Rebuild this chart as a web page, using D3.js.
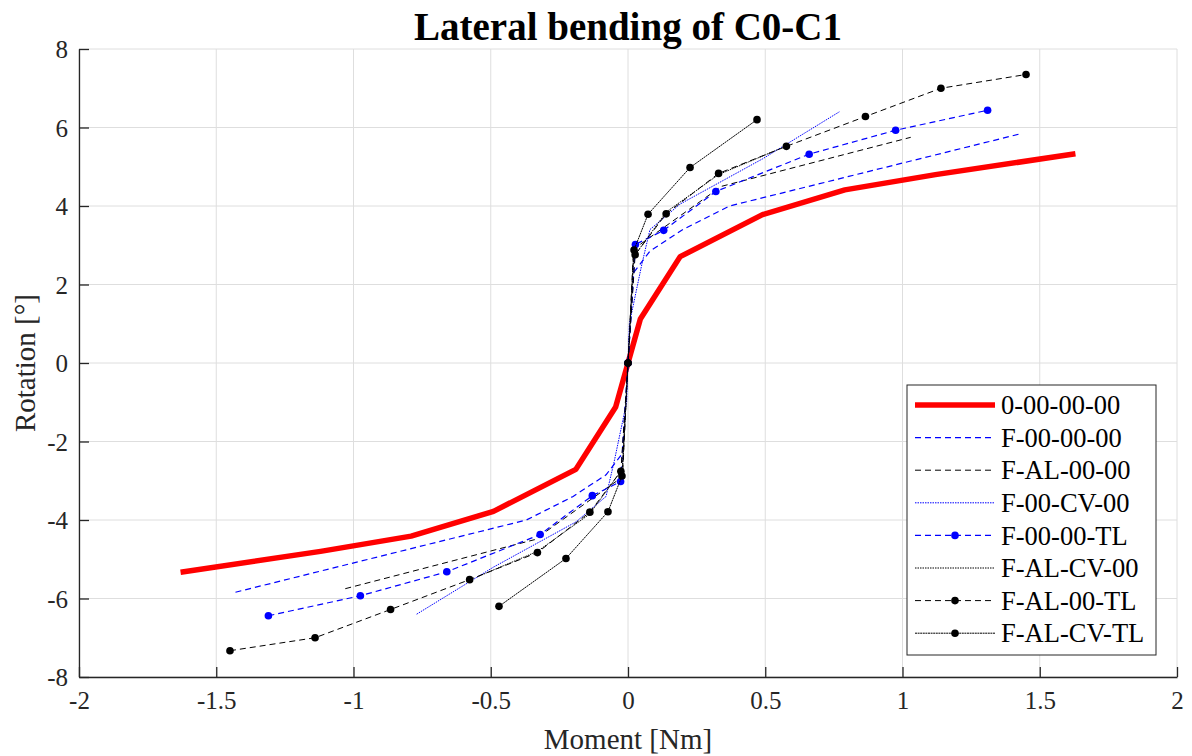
<!DOCTYPE html>
<html>
<head>
<meta charset="utf-8">
<script src="https://cdn.jsdelivr.net/npm/d3@7"></script>
<style>
  body { margin: 0; background: #fff; }
  svg { font-family: 'Liberation Serif', 'Times New Roman', serif; }
</style>
</head>
<body>
<div id="chart"></div>
<script>
// tick labels
const xTicks = [-2, -1.5, -1, -0.5, 0, 0.5, 1, 1.5, 2]
const yTicks = [-8, -6, -4, -2, 0, 2, 4, 6, 8]

// series (moment in Nm, rotation in deg)
const intactM = [-1.63, -1.12, -0.79, -0.49, -0.19, -0.045, 0, 0.045, 0.19, 0.49, 0.79, 1.12, 1.63]
const intactR = [-5.33, -4.8, -4.41, -3.78, -2.71, -1.12, 0, 1.12, 2.71, 3.78, 4.41, 4.8, 5.33]

const f000000M = [-1.43, -0.37, -0.2, -0.08, -0.02, 0, 0.02, 0.08, 0.2, 0.37, 1.43]
const f000000R = [-5.84, -4.0, -3.4, -2.85, -2.3, 0, 2.3, 2.85, 3.4, 4.0, 5.84]

const fal0000M = [-1.03, -0.34, -0.02, 0, 0.02, 0.34, 1.03]
const fal0000R = [-5.75, -4.5, -2.9, 0, 2.9, 4.5, 5.75]

const f00cv00M = [-0.77, -0.49, -0.19, -0.08, -0.05, -0.005, 0, 0.005, 0.05, 0.08, 0.19, 0.49, 0.77]
const f00cv00R = [-6.4, -5.2, -4.05, -3.4, -2.5, -1.0, 0, 1.0, 2.5, 3.4, 4.05, 5.2, 6.4]

const f0000tlM = [-1.31, -0.975, -0.66, -0.32, -0.13, -0.027, 0, 0.027, 0.13, 0.32, 0.66, 0.975, 1.31]
const f0000tlR = [-6.44, -5.93, -5.32, -4.37, -3.38, -3.02, 0, 3.02, 3.38, 4.37, 5.32, 5.93, 6.44]

const falcv00M = [-0.55, -0.33, -0.14, -0.02, 0, 0.02, 0.14, 0.33, 0.55]
const falcv00R = [-5.45, -4.8, -3.85, -2.7, 0, 2.7, 3.85, 4.8, 5.45]

const fal00tlM = [-1.45, -1.14, -0.865, -0.577, -0.33, -0.139, -0.026, 0, 0.026, 0.139, 0.33, 0.577, 0.865, 1.14, 1.45]
const fal00tlR = [-7.33, -7.0, -6.28, -5.52, -4.83, -3.8, -2.76, 0, 2.76, 3.8, 4.83, 5.52, 6.28, 7.0, 7.35]

const falcvtlM = [-0.47, -0.226, -0.073, -0.022, 0, 0.022, 0.073, 0.226, 0.47]
const falcvtlR = [-6.2, -4.98, -3.79, -2.88, 0, 2.88, 3.79, 4.98, 6.2]

const zip = (m, r) => m.map((d, i) => [d, r[i]])

const series = [
  { name: '0-00-00-00', pts: zip(intactM, intactR), color: '#ff0000', width: 5.5, dash: null, marker: false },
  { name: 'F-00-00-00', pts: zip(f000000M, f000000R), color: '#0000ff', width: 1.2, dash: '6,4', marker: false },
  { name: 'F-AL-00-00', pts: zip(fal0000M, fal0000R), color: '#000000', width: 1, dash: '6,4', marker: false },
  { name: 'F-00-CV-00', pts: zip(f00cv00M, f00cv00R), color: '#0000ff', width: 1, dash: '1.5,1', marker: false },
  { name: 'F-00-00-TL', pts: zip(f0000tlM, f0000tlR), color: '#0000ff', width: 1.2, dash: '6,4', marker: true },
  { name: 'F-AL-CV-00', pts: zip(falcv00M, falcv00R), color: '#000000', width: 1, dash: '1.5,1', marker: false },
  { name: 'F-AL-00-TL', pts: zip(fal00tlM, fal00tlR), color: '#000000', width: 1, dash: '6,4', marker: true },
  { name: 'F-AL-CV-TL', pts: zip(falcvtlM, falcvtlR), color: '#000000', width: 1, dash: '2,0.6', marker: true }
]

const fullWidth = 1192
const fullHeight = 756
const margin = { top: 49, right: 15, bottom: 79, left: 79 }
const width = fullWidth - margin.left - margin.right
const height = fullHeight - margin.top - margin.bottom

const xScale = d3.scaleLinear().domain([-2, 2]).range([0, width])
const yScale = d3.scaleLinear().domain([-8, 8]).range([height, 0])

const svg = d3.select('#chart')
  .append('svg')
    .attr('width', fullWidth)
    .attr('height', fullHeight)

const g = svg.append('g')
  .attr('transform', `translate(${margin.left}, ${margin.top})`)

// grid
g.append('g')
  .selectAll('line')
  .data(xTicks)
  .enter().append('line')
    .attr('x1', d => xScale(d)).attr('x2', d => xScale(d))
    .attr('y1', 0).attr('y2', height)
    .attr('stroke', '#dedede').attr('stroke-width', 1)
g.append('g')
  .selectAll('line')
  .data(yTicks)
  .enter().append('line')
    .attr('y1', d => yScale(d)).attr('y2', d => yScale(d))
    .attr('x1', 0).attr('x2', width)
    .attr('stroke', '#dedede').attr('stroke-width', 1)

// axes (ticks point inward like matlab)
const fmt = d => String(d)
const xAxis = d3.axisBottom(xScale).tickValues(xTicks).tickFormat(fmt).tickSizeInner(-10).tickSizeOuter(0).tickPadding(14)
const yAxis = d3.axisLeft(yScale).tickValues(yTicks).tickFormat(fmt).tickSizeInner(-10).tickSizeOuter(0).tickPadding(11)

const gx = g.append('g')
  .attr('transform', `translate(0, ${height})`)
  .call(xAxis)
const gy = g.append('g').call(yAxis)

;[gx, gy].forEach(a => {
  a.select('.domain').attr('stroke', '#262626').attr('stroke-width', 1.3)
  a.selectAll('.tick line').attr('stroke', '#262626').attr('stroke-width', 1.3)
  a.selectAll('.tick text')
    .attr('fill', '#262626')
    .style('font-family', "'Liberation Serif', serif")
    .style('font-size', '25px')
})
gy.selectAll('.tick text').attr('dy', '0.35em')

// lines
const line = d3.line()
  .x(d => xScale(d[0]))
  .y(d => yScale(d[1]))

const plot = g.append('g')
series.forEach(s => {
  plot.append('path')
    .datum(s.pts)
    .attr('d', line)
    .attr('fill', 'none')
    .attr('stroke', s.color)
    .attr('stroke-width', s.width)
    .attr('stroke-dasharray', s.dash)
    .attr('stroke-linejoin', 'round')
  if (s.marker) {
    plot.append('g')
      .selectAll('circle')
      .data(s.pts)
      .enter().append('circle')
        .attr('cx', d => xScale(d[0]))
        .attr('cy', d => yScale(d[1]))
        .attr('r', 3.8)
        .attr('fill', s.color)
  }
})

// title and labels
svg.append('text')
  .attr('x', margin.left + width / 2)
  .attr('y', 40)
  .attr('text-anchor', 'middle')
  .style('font-size', '39px')
  .style('font-weight', 'bold')
  .text('Lateral bending of C0-C1')

svg.append('text')
  .attr('x', margin.left + width / 2)
  .attr('y', 749)
  .attr('text-anchor', 'middle')
  .attr('fill', '#262626')
  .style('font-size', '29px')
  .text('Moment [Nm]')

svg.append('text')
  .attr('transform', `translate(35, ${margin.top + height / 2}) rotate(-90)`)
  .attr('text-anchor', 'middle')
  .attr('fill', '#262626')
  .style('font-size', '29px')
  .text('Rotation [°]')

// legend
const lg = svg.append('g').attr('transform', 'translate(907, 385)')
lg.append('rect')
  .attr('width', 249).attr('height', 270)
  .attr('fill', '#fff')
  .attr('stroke', '#262626').attr('stroke-width', 1)

const rowH = 32.6
series.forEach((s, i) => {
  const y = 20 + i * rowH
  lg.append('line')
    .attr('x1', 8).attr('x2', 88)
    .attr('y1', y).attr('y2', y)
    .attr('stroke', s.color)
    .attr('stroke-width', s.width)
    .attr('stroke-dasharray', s.dash)
  if (s.marker) {
    lg.append('circle').attr('cx', 48).attr('cy', y).attr('r', 3.8).attr('fill', s.color)
  }
  lg.append('text')
    .attr('x', 94).attr('y', y)
    .attr('dy', '0.35em')
    .style('font-size', '26.5px')
    .text(s.name)
})
</script>
</body>
</html>
